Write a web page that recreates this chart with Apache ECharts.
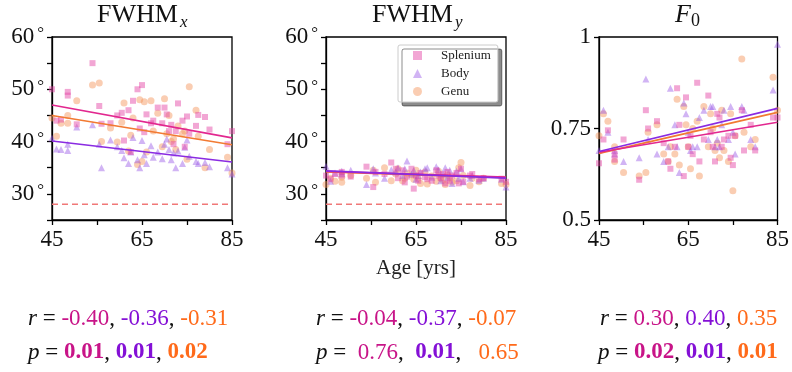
<!DOCTYPE html>
<html lang="en">
<head>
  <meta charset="UTF-8">
  <title>FWHM / F0 vs age</title>
  <script src="https://cdn.jsdelivr.net/npm/echarts@6/dist/echarts.min.js"></script>
  <style>
    html, body { margin: 0; padding: 0; background: #fff; }
    #chart { width: 792px; height: 372px; }
  </style>
</head>
<body>
  <div id="chart"></div>
  <script>
    // ages of the subjects (shared by the three regions)
    var ages = [45, 46, 47, 48.5, 48.5, 50.5, 54, 55.5, 56, 58, 59.5, 60.5, 61, 62, 62.5, 63, 64, 64.5, 65, 65.5, 66,
      67, 67.5, 68.5, 69.5, 70, 70.5, 71, 71.5, 72, 72.5, 73, 74, 74.5, 75, 75.5, 77, 77.5, 79, 80, 84, 85];

    // FWHM_x
    var splX = [50, 44, 44.2, 49.5, 48.8, 43.3, 55, 46.8, 43.4, 43.5, 45, 45.5, 40.2, 46, 38, 47.8, 50, 42.5, 50.8, 41.8, 45.2,
      43.5, 44, 46.5, 43.5, 46.5, 45.2, 42, 43.2, 39.5, 42, 47.3, 44, 39, 44.8, 41.5, 43, 45.1, 44.7, 42.3, 39.5, 42];
    var bodyX = [40.7, 38.6, 38.5, 38.3, 39.5, 42.8, 43.2, 39.5, 35, 40.3, 39, 38.3, 36.9, 35.8, 38, 40.8, 36.5, 35, 40.2, 37.5, 35.8,
      39.2, 37, 38, 36.7, 39.5, 40.5, 38.5, 36.5, 37.8, 35, 38.2, 35.8, 38.9, 40.3, 37.2, 36.2, 35.8, 36, 35.2, 35, 33.8];
    var genX = [44.5, 41, 43.5, 43.5, 45, 47.8, 50.8, 51.2, 40, 42.6, 39.9, 43.7, 47.4, 38.2, 41.2, 44.5, 35.6, 48, 36.2, 47.6, 38,
      47.8, 42, 45.4, 39, 48.2, 41.5, 45, 40, 40.5, 38.5, 43, 41.5, 42, 36.6, 50.5, 46, 41, 35, 38.5, 37, 34];

    // FWHM_y
    var splY = [33.5, 32.8, 33.8, 33.5, 34.2, 33.3, 35.2, 31.3, 34.2, 33.8, 36, 34.8, 33, 34.5, 32.2, 33.3, 34.8, 31, 33.5, 32.5, 34,
      33.2, 32.8, 32.5, 34.5, 33.5, 33, 33.8, 32, 34.2, 32.5, 33.5, 34, 32, 34.8, 32.3, 33.5, 33.8, 32.8, 33, 32.9, 32.3];
    var bodyY = [35.3, 32.4, 34, 34.3, 33.9, 34.5, 31.8, 34.8, 34, 33, 34.6, 34.2, 35, 33.5, 34.8, 36.3, 33.8, 34.5, 32.8, 33.5, 34.2,
      34.8, 35, 33.2, 35.2, 34.6, 32.5, 33.8, 35, 33.2, 34.5, 32, 34.3, 33, 34.8, 32.3, 33, 33.5, 32.6, 33, 32.8, 31.3];
    var genY = [31.8, 33, 32.4, 32.2, 33.2, 33.5, 33, 34.5, 32.2, 35, 32.5, 33.8, 34.8, 32.5, 33, 34, 33.6, 32.8, 34.5, 33, 32,
      34.2, 31.9, 33.4, 32.4, 34.3, 33, 32.6, 31.8, 33.6, 33, 32.2, 32.5, 35, 36, 33.5, 31.6, 33, 32.3, 33, 32, 31.8];

    // F0
    var splF = [0.655, 0.72, 0.745, 0.665, 0.68, 0.72, 0.61, 0.8, 0.75, 0.77, 0.71, 0.66, 0.64, 0.7, 0.86, 0.76, 0.62, 0.835, 0.7, 0.73, 0.68,
      0.875, 0.66, 0.72, 0.84, 0.74, 0.7, 0.66, 0.79, 0.78, 0.7, 0.72, 0.73, 0.67, 0.65, 0.73, 0.8, 0.69, 0.76, 0.69, 0.78, 0.78];
    var bodyF = [0.69, 0.8, 0.74, 0.68, 0.69, 0.66, 0.67, 0.885, 0.72, 0.68, 0.66, 0.7, 0.86, 0.76, 0.7, 0.63, 0.82, 0.79, 0.74, 0.69, 0.7,
      0.7, 0.78, 0.8, 0.72, 0.81, 0.81, 0.7, 0.72, 0.7, 0.76, 0.8, 0.72, 0.81, 0.74, 0.68, 0.81, 0.8, 0.72, 0.7, 0.855, 0.98];
    var genF = [0.73, 0.79, 0.77, 0.7, 0.66, 0.63, 0.62, 0.63, 0.74, 0.76, 0.68, 0.66, 0.7, 0.68, 0.83, 0.65, 0.81, 0.76, 0.7, 0.64, 0.75,
      0.77, 0.62, 0.81, 0.7, 0.79, 0.75, 0.69, 0.71, 0.67, 0.8, 0.69, 0.66, 0.79, 0.58, 0.73, 0.94, 0.74, 0.7, 0.72, 0.89, 0.8];

    // fitted lines, read at age 45 and 85: [splenium, body, genu]
    var fitAges = [45, 85];
    var fitX = [[47, 40.7], [40.1, 36.1], [45, 39.4]];
    var fitY = [[34.3, 33.2], [34.4, 33.0], [34.2, 33.1]];
    var fitF = [[0.685, 0.767], [0.687, 0.805], [0.682, 0.794]];
    var limitLine = 28;

    // correlation stats under each panel: [splenium, body, genu]
    var rVals = [['-0.40', '-0.36', '-0.31'], ['-0.04', '-0.37', '-0.07'], ['0.30', '0.40', '0.35']];
    var pVals = [['0.01', '0.01', '0.02'], ['0.76', '0.01', '0.65'], ['0.02', '0.01', '0.01']];
    var pBold = [[1, 1, 1], [0, 1, 0], [1, 1, 1]];

    var groups = ['Splenium', 'Body', 'Genu'];
    var symbols = ['rect', 'triangle', 'circle'];
    var symSize = [6, 7, 7];
    var markColors = ['rgba(228,70,165,0.6)', 'rgba(150,85,230,0.55)', 'rgba(244,150,95,0.6)'];
    var lineColors = ['#e2278f', '#8a2be2', '#f27a32'];
    var textColors = ['#c81488', '#8410d6', '#ff6a1a'];

    var serif = '"Liberation Serif", "DejaVu Serif", serif';
    var grids = [
      { left: 52, top: 37, width: 180, height: 183 },
      { left: 326, top: 37, width: 180, height: 183 },
      { left: 599, top: 37, width: 179, height: 183 }
    ];
    var panelData = [[splX, bodyX, genX], [splY, bodyY, genY], [splF, bodyF, genF]];
    var panelFits = [fitX, fitY, fitF];

    var chart = echarts.init(document.getElementById('chart'));

    var xAxes = grids.map(function (g, i) {
      return {
        gridIndex: i, type: 'value', min: 45, max: 85, interval: 10,
        name: i === 1 ? 'Age [yrs]' : '', nameLocation: 'middle', nameGap: 38,
        nameTextStyle: { fontFamily: serif, fontSize: 21, color: '#222' },
        axisLine: { show: true, lineStyle: { color: '#000', width: 1.3 } },
        axisTick: { show: true, length: 5, lineStyle: { color: '#000', width: 1.3 } },
        axisLabel: {
          fontFamily: serif, fontSize: 23, color: '#111', margin: 8,
          formatter: function (v) { return (v - 45) % 20 === 0 ? String(v) : ''; }
        },
        splitLine: { show: false }
      };
    });

    var yAxes = grids.map(function (g, i) {
      var isF = i === 2;
      return {
        gridIndex: i, type: 'value',
        min: isF ? 0.5 : 25, max: isF ? 1 : 60, interval: isF ? 0.25 : 5,
        axisLine: { show: true, lineStyle: { color: '#000', width: 1.3 } },
        axisTick: { show: true, length: 5, lineStyle: { color: '#000', width: 1.3 } },
        axisLabel: {
          fontFamily: serif, fontSize: 23, color: '#111', margin: 8,
          formatter: function (v) {
            if (isF) return String(v);
            return v % 10 === 0 ? '{n|' + v + '}{d|°}' : '';
          },
          rich: {
            n: { fontFamily: serif, fontSize: 23, color: '#111' },
            d: { fontFamily: serif, fontSize: 17, color: '#111', padding: [0, 0, 6, 3] }
          }
        },
        splitLine: { show: false }
      };
    });

    var series = [];
    panelData.forEach(function (vals, p) {
      [2, 1, 0].forEach(function (g) {
        series.push({
          name: groups[g], type: 'scatter', xAxisIndex: p, yAxisIndex: p,
          symbol: symbols[g], symbolSize: symSize[g],
          itemStyle: { color: markColors[g] },
          data: ages.map(function (a, k) { return [a, vals[g][k]]; }),
          z: 2
        });
      });
      [2, 0, 1].forEach(function (g) {
        series.push({
          name: groups[g], type: 'line', xAxisIndex: p, yAxisIndex: p,
          symbol: 'none', silent: true,
          lineStyle: { color: lineColors[g], width: 1.6 },
          data: fitAges.map(function (a, k) { return [a, panelFits[p][g][k]]; }),
          z: 4
        });
      });
      if (p < 2) {
        series.push({
          type: 'line', xAxisIndex: p, yAxisIndex: p, symbol: 'none', silent: true,
          lineStyle: { color: '#f07878', width: 1.4, type: [6, 4] },
          data: fitAges.map(function (a) { return [a, limitLine]; }),
          z: 3
        });
      }
    });

    // rich text for "r = a, b, c" rows; gaps lets the middle p row keep its wider spacing
    function statText(label, vals, bold, gaps) {
      var parts = vals.map(function (v, g) {
        return '{' + (bold && bold[g] ? 'b' : 'c') + g + '|' + v + '}';
      });
      gaps = gaps || [' = ', ', ', ', '];
      return '{i|' + label + '}{k|' + gaps[0] + '}' + parts[0] + '{k|' + gaps[1] + '}' + parts[1] + '{k|' + gaps[2] + '}' + parts[2];
    }
    var statRich = { i: { fontFamily: serif, fontSize: 23, fontStyle: 'italic', fill: '#111' },
      k: { fontFamily: serif, fontSize: 23, fill: '#111' } };
    textColors.forEach(function (c, g) {
      statRich['c' + g] = { fontFamily: serif, fontSize: 23, fill: c };
      statRich['b' + g] = { fontFamily: serif, fontSize: 23, fontWeight: 'bold', fill: c };
    });

    var rLeft = [28, 316, 600];
    var pLeft = [28, 316, 598];
    var pGaps = [null, [' =  ', ',  ', ',   '], null];
    var graphics = [];
    rVals.forEach(function (vals, p) {
      graphics.push({ type: 'text', left: rLeft[p], top: 307,
        style: { text: statText('r', vals, null), rich: statRich } });
      graphics.push({ type: 'text', left: pLeft[p], top: 341,
        style: { text: statText('p', pVals[p], pBold[p], pGaps[p]), rich: statRich } });
    });

    // panel titles
    graphics.push({ type: 'text', left: 97, top: 2, style: { text: 'FWHM', font: '26px ' + serif, fill: '#111' } });
    graphics.push({ type: 'text', left: 180, top: 14, style: { text: 'x', font: 'italic 17px ' + serif, fill: '#111' } });
    graphics.push({ type: 'text', left: 372, top: 2, style: { text: 'FWHM', font: '26px ' + serif, fill: '#111' } });
    graphics.push({ type: 'text', left: 455, top: 14, style: { text: 'y', font: 'italic 17px ' + serif, fill: '#111' } });
    graphics.push({ type: 'text', left: 675, top: 2, style: { text: 'F', font: 'italic 26px ' + serif, fill: '#111' } });
    graphics.push({ type: 'text', left: 691, top: 12, style: { text: '0', font: '18px ' + serif, fill: '#111' } });

    var option = {
      animation: false,
      backgroundColor: '#fff',
      grid: grids.map(function (g) {
        return Object.assign({ show: true, borderColor: '#000', borderWidth: 1.3, backgroundColor: 'transparent' }, g);
      }),
      xAxis: xAxes,
      yAxis: yAxes,
      legend: {
        left: 398, top: 45, orient: 'vertical', itemGap: 5, itemWidth: 9, itemHeight: 9,
        padding: [4, 7, 4, 15],
        backgroundColor: '#fff', borderColor: '#ccc', borderWidth: 1, borderRadius: 2,
        shadowColor: 'rgba(0,0,0,0.45)', shadowOffsetX: 4, shadowOffsetY: 4, shadowBlur: 0,
        textStyle: { fontFamily: serif, fontSize: 13, lineHeight: 13, color: '#222', padding: [0, 0, 0, 14] },
        data: groups.map(function (n, g) {
          return { name: n, icon: symbols[g], itemStyle: { color: markColors[g] } };
        })
      },
      series: series,
      graphic: graphics
    };
    chart.setOption(option);
  </script>
</body>
</html>
